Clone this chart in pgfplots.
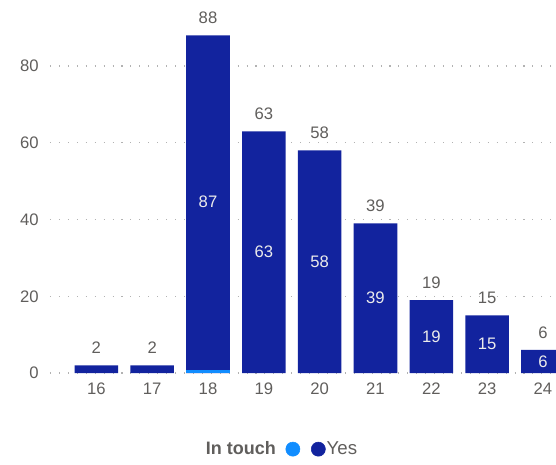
\documentclass[border=0pt]{standalone}
\usepackage{pgfplots}
\pgfplotsset{compat=1.18}
\usepackage{fontspec}
\setmainfont{Liberation Sans}
\definecolor{darkb}{HTML}{12239E}
\definecolor{lightb}{HTML}{118DFF}
\definecolor{txt}{HTML}{605E5C}
\begin{document}
\begin{tikzpicture}
\path[use as bounding box] (-37.5pt,-68.25pt) rectangle (379.5pt,279.75pt);
\begin{axis}[
  at={(0pt,0pt)}, anchor=south west,
  scale only axis, width=379.5pt, height=259pt,
  xmin=15.17, xmax=24.233, ymin=0, ymax=90,
  clip=false,
  axis line style={draw=none}, tick style={draw=none},
  xtick={16,...,24}, ytick={0,20,40,60,80},
  ymajorgrids,
  grid style={black!30, line width=0.9pt, dash pattern=on 0.8pt off 5.9pt},
  /pgf/number format/assume math mode=true,
  ticklabel style={font=\fontsize{12.5}{14}\selectfont, text=txt},
  yticklabel style={xshift=-5pt},
  xticklabel style={yshift=-4.2pt},
  nodes near coords style={font=\fontsize{12.5}{14}\selectfont},
  legend style={at={(0.4575,-0.2205)}, anchor=center, draw=none, fill=none,
    font=\fontsize{13.5}{15}\selectfont, text=txt,
    legend columns=3,
    nodes={inner xsep=1pt},
    /tikz/every even column/.append style={column sep=6.5pt}},
]
\addlegendimage{empty legend}
\addlegendentry{\textbf{In touch}\hspace{5pt}}
\addlegendimage{only marks, mark=*, mark size=5.3pt, color=lightb}
\addlegendentry{}
\addlegendimage{only marks, mark=*, mark size=5.3pt, color=darkb}
\addlegendentry{\fontsize{14}{15}\selectfont Yes}
% totals (dark blue full bars)
\addplot[ybar, bar width=0.78, bar shift=0, fill=darkb, draw=none, forget plot,
  nodes near coords,
  every node near coord/.append style={text=txt, yshift=5.2pt}]
  coordinates {(16,2) (17,2) (18,88) (19,63) (20,58) (21,39) (22,19) (23,15) (24,6)};
% blank category (light blue)
\addplot[ybar, bar width=0.78, bar shift=0, fill=lightb, draw=none, forget plot]
  coordinates {(18,0.9)};
% inside labels for Yes
\addplot[draw=none, mark=none, forget plot, nodes near coords,
  point meta=explicit symbolic,
  every node near coord/.append style={anchor=center, text=white!92!black}]
  coordinates {(18,44.5) [87] (19,31.5) [63] (20,29) [58] (21,19.5) [39]
               (22,9.5) [19] (23,7.5) [15] (24,3) [6]};
\end{axis}
\end{tikzpicture}
\end{document}
